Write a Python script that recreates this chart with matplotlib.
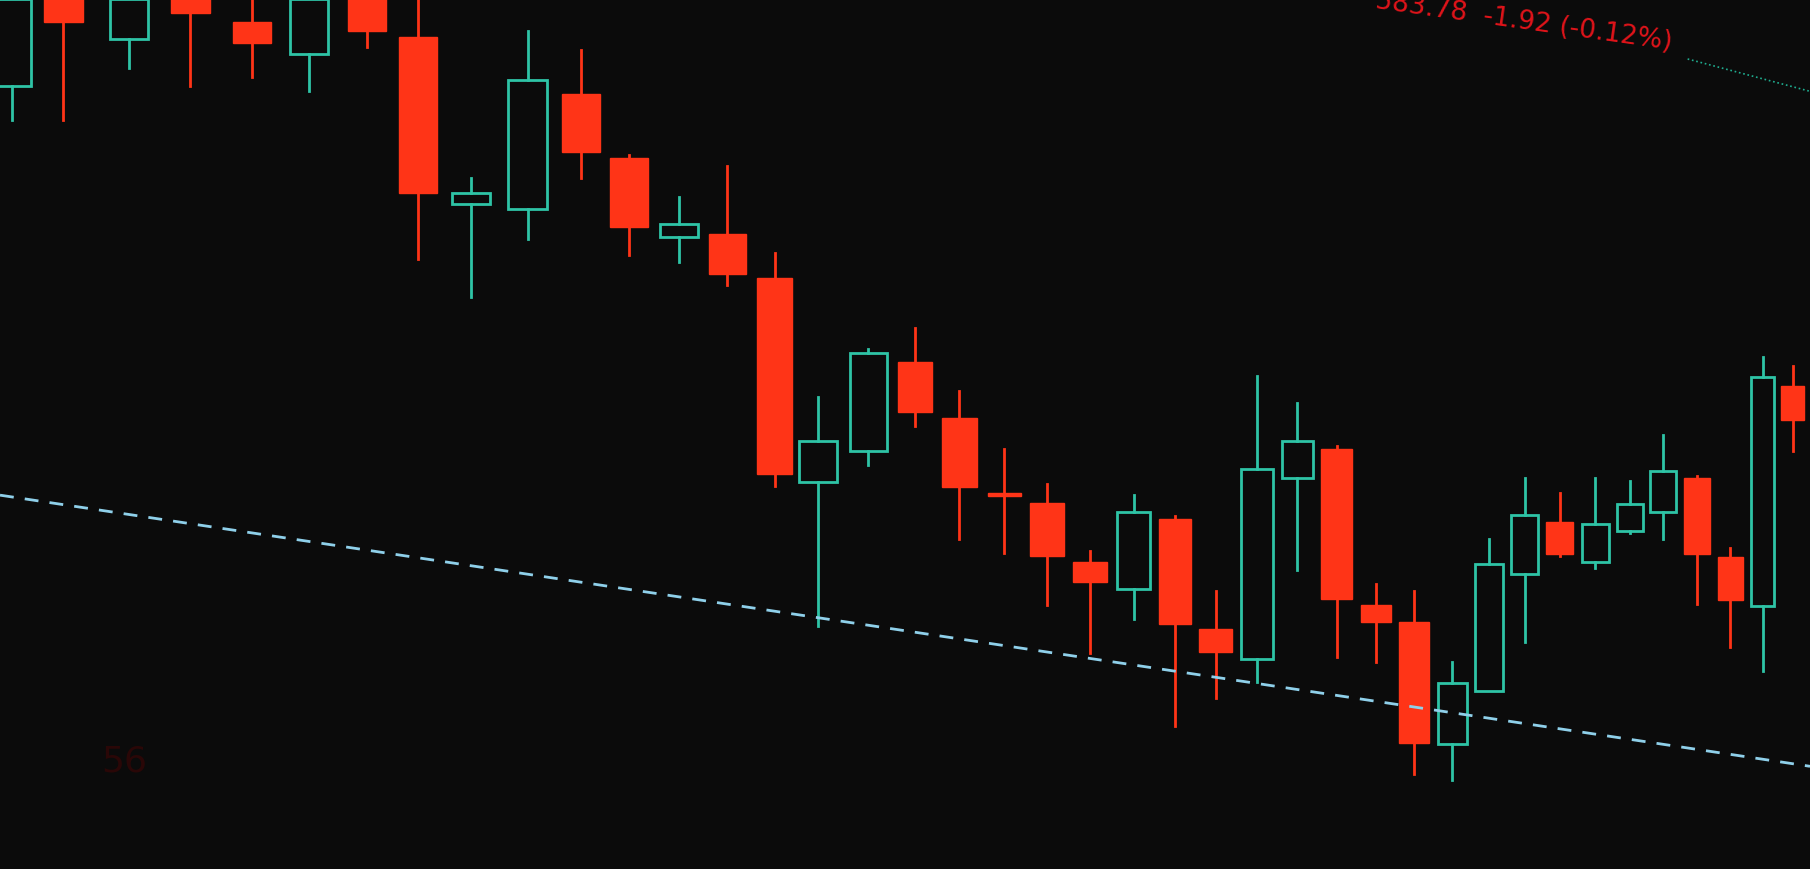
import numpy as np
import matplotlib
matplotlib.use('Agg')
from matplotlib import pyplot as plt
from matplotlib.patches import Rectangle

# candle times (uneven, screen is seen at an angle) and values, oldest first
times  = [1.0, 5.5, 11.2, 16.5, 21.8, 26.8, 31.8, 36.2, 40.8, 45.7, 50.3, 54.5, 58.8, 63.0, 67.1, 70.9, 75.2, 79.3, 83.1, 87.0, 90.7, 94.4, 98.2, 101.8, 105.3, 108.9, 112.4, 115.8, 119.2, 122.5, 125.8, 129.0, 132.1, 135.1, 138.2, 141.2, 144.1, 147.0, 149.9, 152.7, 155.3]
opens  = [679, 754, 719, 754, 734, 706, 754, 721, 576, 572, 672, 616, 548, 550, 512, 335, 362, 439, 391, 326, 317, 266, 243, 303, 208, 182, 339, 364, 229, 214, 108, 154, 256, 301, 266, 293, 309, 339, 270, 228, 419]
closes = [754, 734, 754, 742, 716, 754, 726, 586, 586, 684, 621, 556, 559, 516, 342, 371, 447, 396, 331, 323, 271, 249, 309, 212, 188, 347, 371, 234, 214, 109, 161, 264, 307, 273, 299, 316, 345, 273, 233, 426, 389]
highs  = [760, 770, 760, 760, 760, 760, 760, 754, 599, 726, 710, 619, 582, 609, 534, 409, 451, 469, 414, 364, 334, 276, 324, 306, 241, 427, 404, 367, 247, 241, 179, 286, 339, 326, 339, 336, 376, 341, 278, 444, 436]
lows   = [649, 649, 694, 679, 686, 674, 712, 529, 496, 546, 599, 532, 526, 506, 332, 211, 350, 384, 286, 274, 229, 187, 217, 124, 148, 162, 259, 184, 179, 82, 77, 154, 197, 271, 261, 291, 286, 230, 192, 172, 362]
trend_x = [0, 156.8]
trend_y = [324, 89]

green = '#2ec4a6'
red = '#ff3417'

fig = plt.figure(figsize=(18.1, 8.7), dpi=100, facecolor='#0b0b0b')
ax = fig.add_axes([0, 0, 1, 1])
ax.set_facecolor('#0b0b0b')

gaps = np.diff(times)
for i in range(len(opens)):
    t = times[i]
    o, c, h, l = opens[i], closes[i], highs[i], lows[i]
    sp = gaps[min(i, len(gaps) - 1)]
    w = min(sp * 0.78, 3.3)
    up = c >= o
    col = green if up else red
    lo_b, hi_b = min(o, c), max(o, c)
    ax.plot([t, t], [l, lo_b], color=col, lw=2)
    ax.plot([t, t], [hi_b, h], color=col, lw=2)
    if up:
        ax.add_patch(Rectangle((t - w / 2, lo_b), w, max(hi_b - lo_b, 2), fill=False, edgecolor=col, lw=2))
    else:
        ax.add_patch(Rectangle((t - w / 2, lo_b), w, max(hi_b - lo_b, 3), facecolor=col, edgecolor=col, lw=1))

ax.plot(trend_x, trend_y, color='#8fd0ea', lw=2, dashes=(5, 4))
ax.plot([146.2, 156.8], [702, 674], color='#1fae90', lw=1.2, ls=':')

ax.text(145.0, 735, '583.78  -1.92 (-0.12%)', color='#e0141a', fontsize=19, rotation=-8,
        ha='right', va='center')
ax.text(10.8, 94, '56', color='#2a0707', fontsize=26, ha='center', va='center')

ax.set_xlim(0, 156.8)
ax.set_ylim(0, 754)
ax.axis('off')
fig.savefig('out.png', dpi=100, facecolor=fig.get_facecolor())
